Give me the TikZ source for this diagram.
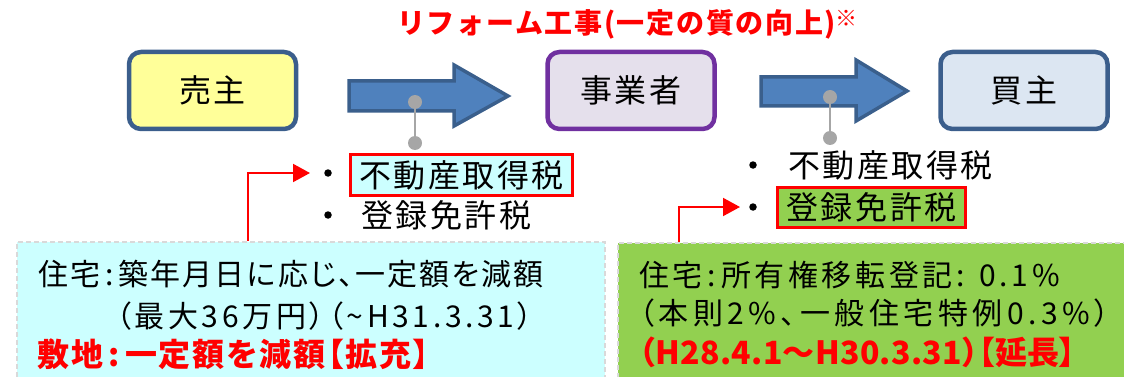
\documentclass[tikz,border=0pt]{standalone}
\usepackage{fontspec}
\setmainfont{Noto Sans CJK JP}
\usetikzlibrary{arrows.meta}
\definecolor{bblue}{HTML}{3B5E8C}
\definecolor{arrfill}{HTML}{4F81BD}
\definecolor{arrline}{HTML}{3A5F8C}
\definecolor{purpleb}{HTML}{7030A0}
\definecolor{yellowf}{HTML}{FFFF99}
\definecolor{lavf}{HTML}{E5E0EC}
\definecolor{bluef}{HTML}{DCE6F2}
\definecolor{cyanf}{HTML}{CCFFFF}
\definecolor{greenf}{HTML}{92D050}
\definecolor{dotgray}{HTML}{A6A6A6}
\definecolor{dashgray}{HTML}{D9D9D9}
\definecolor{myred}{HTML}{FF0000}
\newcommand{\listfont}{\fontsize{32pt}{36pt}\selectfont\addfontfeatures{LetterSpace=8}}
\tikzset{
  party/.style={rounded corners=12pt, line width=4.5pt, minimum width=167pt, minimum height=77pt, inner sep=0pt,
    font=\listfont},
  blockarrow/.style={fill=arrfill, draw=arrline, line width=3.5pt, line join=miter},
  gdot/.style={circle, fill=dotgray, minimum size=14pt, inner sep=0pt},
  gline/.style={draw=dotgray, line width=2pt},
  bul/.style={circle, fill=black, minimum size=7.5pt, inner sep=0pt},
  listtxt/.style={inner sep=0pt, font=\listfont},
  hl/.style={draw=myred, line width=3pt, inner sep=0pt, font=\listfont},
  redarrow/.style={draw=myred, line width=2pt, -{Triangle[length=17pt,width=18pt]}},
  lowbox/.style={draw=dashgray, line width=1.5pt, dash pattern=on 5pt off 3pt, inner sep=0pt},
  lowtxt/.style={inner sep=0pt, anchor=west, font=\fontsize{30pt}{34pt}\selectfont\addfontfeatures{LetterSpace=#1,RawFeature=+palt}},
  lowtxt/.default=8,
  lowred/.style={inner sep=0pt, anchor=west, text=myred, font=\fontsize{32pt}{36pt}\selectfont\bfseries\addfontfeatures{LetterSpace=#1,RawFeature=+palt}},
  lowred/.default=0,
  titletxt/.style={inner sep=0pt, anchor=west, text=myred, font=\fontsize{28pt}{32pt}\selectfont\bfseries\addfontfeatures{LetterSpace=6}}
}
\begin{document}
\begin{tikzpicture}[x=1pt,y=-1pt]
\useasboundingbox (0,0) rectangle (1124,377);
\clip (0,0) rectangle (1124,377);

% title
\node[titletxt] (title) at (397,24) {リフォーム工事(一定の質の向上)\raisebox{7pt}{\fontsize{22pt}{22pt}\selectfont ※}};

% parties
\node[party, draw=bblue, fill=yellowf] (seller) at (212.5,90.5) {売主};
\node[party, draw=purpleb, fill=lavf] (biz) at (631,90.5) {事業者};
\node[party, draw=bblue, fill=bluef] (buyer) at (1024,90.5) {買主};

% block arrows
\draw[blockarrow] (349,81) -- (454,81) -- (454,65) -- (508,96) -- (454,126) -- (454,111) -- (349,111) -- cycle;
\draw[blockarrow] (761,77) -- (856,77) -- (856,60) -- (907,91) -- (856,121) -- (856,106) -- (761,106) -- cycle;

% gray pins
\node[gdot] (d1a) at (415,102) {};
\node[gdot] (d1b) at (415,143) {};
\draw[gline] (d1a.center) -- (d1b.center);
\node[gdot] (d2a) at (830,97) {};
\node[gdot] (d2b) at (830,138) {};
\draw[gline] (d2a.center) -- (d2b.center);

% left list
\node[bul] (lb1) at (328,173) {};
\node[bul] (lb2) at (328,215) {};
\node[hl, fill=cyanf, minimum width=222pt, minimum height=41pt] (lt1) at (461.5,175) {不動産取得税};
\node[listtxt, anchor=west] (lt2) at (361,215) {登録免許税};

% right list
\node[bul] (rb1) at (753,165) {};
\node[bul] (rb2) at (753,207) {};
\node[listtxt, anchor=west] (rt1) at (788,165) {不動産取得税};
\node[hl, fill=greenf, minimum width=188pt, minimum height=40pt] (rt2) at (871.5,207.5) {登録免許税};

% lower boxes
\node[lowbox, fill=cyanf, anchor=north west, minimum width=588pt, minimum height=150pt] (lbox) at (16,241) {};
\node[lowbox, fill=greenf, anchor=north west, minimum width=520pt, minimum height=150pt] (rbox) at (617,242) {};

% red connectors
\coordinate (lc) at (248,241);
\coordinate (rc) at (679,242);
\draw[redarrow] (lc) |- ([xshift=-18pt]lb1.center);
\draw[redarrow] (rc) |- ([xshift=-13pt]rb2.center);

% lower texts
\node[lowtxt=7] (l1) at (38,274) {住宅\,:\,築年月日に応じ、一定額を減額};
\node[lowtxt=12] (l2) at (116,316) {（最大36万円）（\textasciitilde H31.3.31）};
\node[lowred=6] (l3) at (37,354) {敷地\,:\,一定額を減額【拡充】};
\node[lowtxt=12] (r1) at (639,275) {住宅\,:\,所有権移転登記:\enspace0.1\%};
\node[lowtxt=15] (r2) at (639,313) {（本則2\%、一般住宅特例0.3\%）};
\node[lowred=1] (r3) at (639,352) {（H28.4.1～H30.3.31）【延長】};
\end{tikzpicture}
\end{document}
